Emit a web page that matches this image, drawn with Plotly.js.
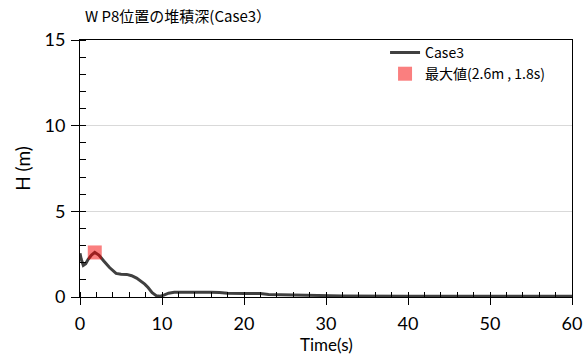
<!DOCTYPE html>
<html>
<head>
<meta charset="utf-8">
<script src="https://cdn.plot.ly/plotly-3.0.1.min.js"></script>
<style>html,body{margin:0;padding:0;background:#fff;}#chart{width:584px;height:356px;}</style>
</head>
<body>
<div id="chart"></div>
<script>
const timeS = [0, 0.15, 0.4, 0.7, 1.0, 1.4, 1.8, 2.3, 2.9, 3.6, 4.4, 5.0, 5.7, 6.3, 6.9, 7.4, 7.9, 8.3, 8.8, 9.3, 9.8, 10.3, 10.8, 11.5, 12.5, 14, 16, 17, 18, 20, 22, 23, 25, 28, 31, 32, 40, 50, 60];
const depthH = [2.55, 2.2, 1.85, 1.95, 2.2, 2.45, 2.6, 2.45, 2.1, 1.72, 1.38, 1.33, 1.32, 1.24, 1.1, 0.93, 0.75, 0.55, 0.25, 0.08, 0.05, 0.12, 0.22, 0.27, 0.28, 0.28, 0.28, 0.26, 0.22, 0.2, 0.2, 0.15, 0.13, 0.12, 0.1, 0.06, 0.05, 0.05, 0.05];
const maxT = [1.8];
const maxH = [2.6];
const seriesName = 'Case3';
const maxName = '最大値(2.6m , 1.8s)';
const titleText = 'W P8位置の堆積深(Case3）';
const xTitle = 'Time(s)';
const yTitle = 'H (m)';

const numFont = 'Lato, "Noto Sans CJK JP", sans-serif';
const jpFont = '"Noto Sans CJK JP", sans-serif';

const traces = [
  {x: timeS, y: depthH, mode: 'lines', name: seriesName,
   line: {color: '#404040', width: 3}},
  {x: maxT, y: maxH, mode: 'markers', name: maxName,
   marker: {symbol: 'square', size: 14, color: 'rgba(245,0,0,0.5)'}}
];

const layout = {
  width: 584, height: 356,
  margin: {l: 80, r: 12, t: 40, b: 59},
  paper_bgcolor: '#fff', plot_bgcolor: '#fff',
  showlegend: true,
  title: {text: titleText, font: {family: jpFont, size: 15, color: '#000'},
          x: 85/584, xanchor: 'left', y: 1 - 17/356, yanchor: 'middle'},
  legend: {x: 0.62, xanchor: 'left', y: 1.012, yanchor: 'top',
           font: {family: jpFont, size: 14, color: '#000'},
           bgcolor: 'rgba(0,0,0,0)', tracegroupgap: 0},
  xaxis: {range: [0, 60], dtick: 10, showgrid: false, zeroline: false,
          showline: true, linecolor: '#000', linewidth: 1, mirror: true,
          ticks: 'outside', ticklen: 7, tickcolor: '#000', ticklabelstandoff: 3,
          minor: {dtick: 2, ticks: 'inside', ticklen: 5, tickcolor: '#000', showgrid: false},
          tickfont: {family: numFont, size: 18, color: '#000'}},
  yaxis: {range: [0, 15], dtick: 5, showgrid: true, gridcolor: '#d9d9d9', zeroline: false,
          showline: true, linecolor: '#000', linewidth: 1, mirror: true,
          ticks: 'outside', ticklen: 8, tickcolor: '#000', ticklabelstandoff: 2,
          minor: {dtick: 1, ticks: 'inside', ticklen: 6, tickcolor: '#000', showgrid: false},
          tickfont: {family: numFont, size: 18, color: '#000'},
          title: {text: yTitle, font: {family: numFont, size: 19, color: '#000'}, standoff: 8}},
  annotations: [
    {text: xTitle, xref: 'paper', yref: 'paper', x: 0.5, xanchor: 'center',
     y: -(344 - 297) / 257, yanchor: 'middle', showarrow: false,
     font: {family: numFont, size: 17, color: '#000'}}
  ]
};

Plotly.newPlot('chart', traces, layout, {displayModeBar: false, staticPlot: true});
</script>
</body>
</html>
